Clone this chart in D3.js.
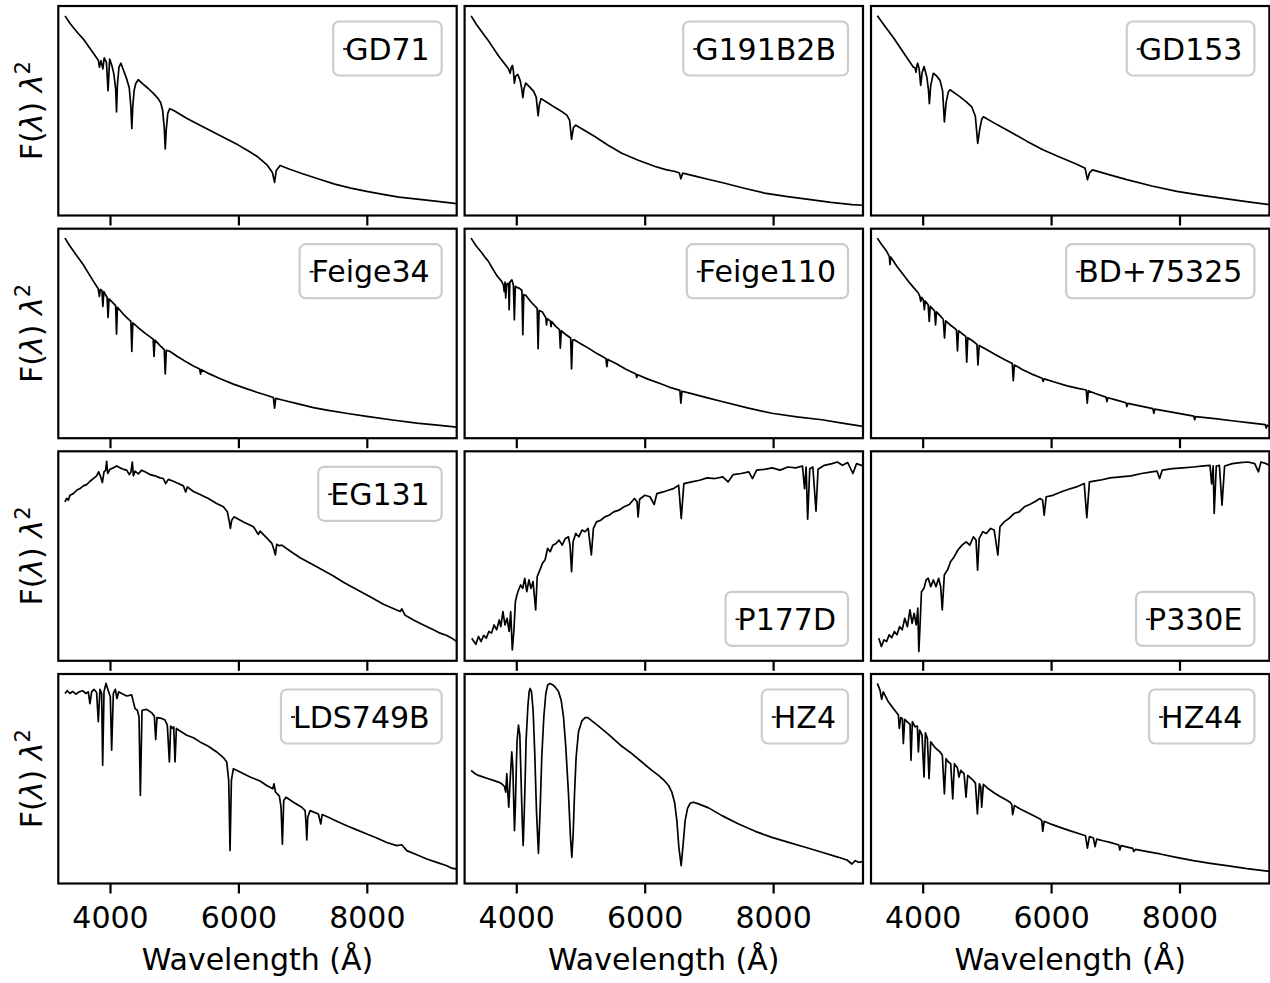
<!DOCTYPE html>
<html><head><meta charset="utf-8">
<script src="https://cdn.jsdelivr.net/npm/d3@7/dist/d3.min.js"></script>
<style>
body{margin:0;background:#fff}
text{font-family:"DejaVu Sans",sans-serif;fill:#000}
</style>
</head><body>
<svg id="c" width="1270" height="983"></svg>
<script>
// ---------- data: [wavelength (Å), normalised F(λ)λ²] ----------
const tickValues = [4000, 6000, 8000];
const xLabel = "Wavelength (Å)";
const xRange = [3195, 9400];

const GD71 = [[3300,95.3],[3370,92.0],[3450,88.9],[3520,86.4],[3585,84.2],[3670,80.6],[3750,77.1],[3820,74.0],[3835,70.8],[3860,73.9],[3889,70.0],[3910,75.2],[3945,73.1],[3970,59.6],[3995,74.7],[4030,71.5],[4060,67.6],[4088,60.5],[4102,49.4],[4116,62.5],[4140,70.8],[4170,72.7],[4215,69.0],[4260,65.2],[4300,61.0],[4325,52.0],[4340,41.5],[4355,52.0],[4375,59.5],[4400,62.9],[4440,64.8],[4520,62.6],[4600,60.5],[4680,58.2],[4750,55.8],[4790,53.8],[4820,50.2],[4845,42.0],[4861,31.8],[4875,40.5],[4900,48.7],[4930,51.0],[5000,50.0],[5200,46.3],[5350,43.9],[5500,41.5],[5750,37.6],[6000,33.6],[6150,30.9],[6300,28.0],[6450,24.0],[6530,20.5],[6563,15.8],[6590,21.5],[6650,23.9],[6800,22.1],[7000,19.9],[7250,17.4],[7500,15.0],[7750,13.1],[8000,11.5],[8250,10.1],[8500,8.8],[8750,7.9],[9000,7.1],[9200,6.4],[9400,5.7]];

const G191B2B = [[3296,95.3],[3380,91.2],[3470,87.3],[3566,83.4],[3640,80.0],[3722,76.3],[3800,73.2],[3878,70.0],[3905,67.9],[3920,70.5],[3940,71.6],[3955,69.0],[3970,63.2],[3990,66.5],[4024,67.3],[4060,64.5],[4085,60.5],[4102,56.2],[4120,60.5],[4148,63.2],[4210,61.3],[4268,59.4],[4310,56.5],[4340,47.6],[4360,53.0],[4387,55.8],[4500,53.6],[4605,51.5],[4700,49.8],[4787,47.9],[4830,45.5],[4861,36.3],[4890,42.0],[4927,43.1],[5080,40.3],[5228,37.6],[5430,33.5],[5644,29.7],[5900,26.4],[6163,23.4],[6330,21.9],[6475,21.0],[6540,20.3],[6563,17.5],[6591,20.2],[6800,18.7],[7000,17.2],[7232,15.5],[7550,13.0],[7866,10.7],[8200,9.1],[8581,7.6],[8900,6.3],[9230,5.2],[9400,4.9]];

const GD153 = [[3294,95.3],[3420,90.0],[3543,85.0],[3700,77.8],[3855,70.8],[3880,70.5],[3896,68.4],[3910,71.5],[3922,72.7],[3945,70.0],[3969,62.1],[3990,68.0],[4021,71.1],[4065,66.0],[4090,60.0],[4104,53.4],[4125,62.0],[4166,67.9],[4220,66.5],[4270,64.5],[4310,59.5],[4338,44.7],[4365,54.0],[4400,59.0],[4426,60.0],[4500,58.4],[4582,56.6],[4680,54.2],[4764,51.8],[4820,47.5],[4857,34.4],[4890,41.5],[4920,46.0],[4945,47.1],[5150,43.5],[5361,40.0],[5620,35.5],[5880,31.3],[6140,27.8],[6400,24.5],[6530,22.5],[6566,17.1],[6600,20.5],[6644,21.8],[6900,19.5],[7179,17.1],[7570,14.1],[7958,11.5],[8350,9.6],[8737,7.9],[9070,6.5],[9400,5.2]];

const Feige34 = [[3299,95.5],[3370,92.0],[3450,88.5],[3520,85.5],[3585,82.8],[3640,80.0],[3700,77.0],[3750,74.5],[3792,72.5],[3815,71.5],[3835,67.7],[3850,71.0],[3875,70.5],[3889,62.9],[3905,70.0],[3930,68.5],[3955,67.3],[3970,57.6],[3985,66.5],[4040,64.8],[4088,63.3],[4102,49.7],[4116,62.5],[4200,59.5],[4270,57.3],[4325,55.8],[4340,41.4],[4355,55.0],[4450,52.5],[4560,49.8],[4672,47.3],[4686,39.0],[4700,46.8],[4780,44.2],[4845,42.3],[4861,30.7],[4877,41.9],[4930,41.5],[5050,39.0],[5200,36.2],[5300,34.5],[5397,33.0],[5411,30.6],[5425,32.7],[5550,30.7],[5700,28.6],[5922,25.8],[6100,23.9],[6300,21.8],[6450,20.4],[6545,19.4],[6563,14.3],[6581,19.0],[6700,18.1],[6900,16.6],[7168,14.6],[7400,13.3],[7700,11.8],[8000,10.4],[8400,8.7],[8779,7.2],[9100,6.2],[9400,5.3]];

const Feige110 = [[3296,95.5],[3370,92.0],[3450,89.0],[3510,86.5],[3566,84.4],[3630,81.0],[3700,77.5],[3774,74.8],[3800,73.0],[3812,70.0],[3825,74.5],[3835,66.9],[3850,73.5],[3880,74.0],[3889,61.3],[3900,74.5],[3931,75.6],[3955,73.0],[3970,56.5],[3985,72.5],[4008,72.0],[4050,71.5],[4088,70.5],[4102,49.4],[4116,68.5],[4148,68.2],[4230,65.0],[4325,62.0],[4340,42.7],[4355,61.0],[4408,60.2],[4460,57.5],[4471,54.1],[4482,57.0],[4530,56.0],[4541,53.3],[4553,55.7],[4610,53.5],[4672,51.8],[4686,43.0],[4700,51.3],[4770,49.5],[4846,47.8],[4861,33.1],[4876,46.8],[4901,47.0],[5010,45.0],[5124,43.0],[5250,40.5],[5396,38.0],[5411,34.2],[5426,37.6],[5560,35.5],[5700,33.0],[5862,30.6],[5876,29.0],[5890,30.3],[6050,28.2],[6250,26.0],[6420,24.0],[6548,22.8],[6563,16.7],[6580,22.4],[6700,21.5],[6950,19.5],[7202,17.5],[7600,14.5],[7981,11.9],[8370,10.2],[8760,8.8],[9100,7.1],[9400,5.6]];

const BD75325 = [[3294,95.5],[3360,92.5],[3439,89.2],[3480,86.8],[3491,82.8],[3502,86.5],[3600,82.0],[3699,78.0],[3800,74.0],[3870,71.5],[3933,69.3],[3955,67.7],[3969,65.3],[3985,67.2],[4010,66.1],[4026,61.3],[4040,65.5],[4085,63.7],[4102,55.7],[4118,63.0],[4185,60.8],[4200,54.1],[4215,60.3],[4270,58.5],[4320,56.8],[4340,47.8],[4358,56.0],[4440,53.8],[4525,51.8],[4542,41.7],[4558,51.3],[4610,50.0],[4670,48.6],[4686,36.3],[4702,48.0],[4775,46.5],[4845,44.8],[4861,35.0],[4880,44.3],[5000,42.2],[5150,39.6],[5280,37.5],[5395,35.6],[5411,27.5],[5428,35.0],[5550,32.8],[5700,30.6],[5860,28.6],[5876,27.1],[5892,28.3],[6050,26.8],[6250,25.0],[6420,23.8],[6548,23.0],[6563,16.7],[6580,22.6],[6700,21.2],[6855,19.6],[6870,17.5],[6885,19.3],[7020,18.2],[7165,16.9],[7180,15.1],[7195,16.6],[7400,15.3],[7585,14.1],[7600,11.9],[7615,13.9],[7900,12.3],[8222,10.5],[8237,8.8],[8252,10.3],[8550,9.3],[8850,8.2],[9100,7.3],[9335,6.5],[9350,4.8],[9365,6.2],[9400,5.6]];

const EG131 = [[3299,75.9],[3325,77.5],[3351,76.7],[3377,79.0],[3429,79.8],[3481,81.4],[3533,82.2],[3585,83.5],[3636,84.1],[3688,85.7],[3740,87.0],[3792,88.3],[3823,90.2],[3855,87.8],[3881,85.1],[3907,90.2],[3933,91.0],[3948,95.2],[3964,89.4],[4000,91.4],[4052,92.1],[4104,93.0],[4156,92.1],[4208,91.4],[4260,91.0],[4301,88.9],[4327,90.2],[4348,94.9],[4364,88.3],[4390,90.5],[4442,89.2],[4494,91.0],[4545,90.2],[4623,88.9],[4701,88.3],[4779,87.3],[4831,87.0],[4867,84.6],[4909,86.6],[4987,85.7],[5065,84.6],[5143,83.5],[5179,80.6],[5205,83.0],[5299,80.8],[5402,79.4],[5532,77.5],[5662,75.1],[5766,73.5],[5828,71.1],[5859,66.3],[5875,63.2],[5896,67.1],[5932,68.7],[6078,66.3],[6234,64.0],[6311,60.3],[6337,61.9],[6441,58.7],[6519,56.2],[6555,53.0],[6576,50.5],[6597,55.6],[6638,54.9],[6675,55.2],[6805,52.4],[6961,49.2],[7220,44.9],[7480,40.5],[7636,37.5],[7792,34.9],[8051,30.6],[8259,27.0],[8519,23.5],[8545,24.8],[8597,21.7],[8727,19.5],[8882,17.1],[9038,14.8],[9142,13.2],[9246,12.1],[9324,10.8],[9400,9.2]];

const P177D = [[3306,10.8],[3371,7.9],[3411,11.6],[3452,9.2],[3492,12.1],[3533,10.8],[3573,14.0],[3614,13.2],[3654,17.1],[3695,14.8],[3735,19.5],[3759,16.3],[3792,23.5],[3824,17.1],[3857,20.3],[3889,14.0],[3913,23.5],[3938,5.2],[3962,14.0],[3986,28.3],[4010,31.4],[4035,33.8],[4067,36.2],[4100,34.6],[4132,39.4],[4164,33.0],[4197,38.6],[4229,34.6],[4261,37.8],[4302,24.3],[4326,40.2],[4367,43.3],[4407,46.5],[4448,48.1],[4488,53.7],[4529,52.1],[4569,55.2],[4618,56.0],[4666,57.6],[4715,55.2],[4764,58.4],[4812,59.2],[4837,55.2],[4861,42.5],[4885,56.8],[4926,60.8],[4974,59.2],[5023,62.4],[5071,61.6],[5120,63.2],[5169,50.5],[5201,63.2],[5250,66.3],[5314,67.1],[5379,68.7],[5444,69.5],[5517,71.1],[5598,71.9],[5679,73.5],[5760,74.6],[5841,77.5],[5881,75.9],[5897,68.7],[5921,77.1],[6002,79.0],[6083,78.3],[6148,74.6],[6189,79.8],[6286,80.6],[6367,81.4],[6448,82.2],[6529,83.8],[6569,67.9],[6610,84.6],[6731,85.4],[6853,86.2],[6974,87.3],[7096,87.0],[7217,87.8],[7298,85.4],[7379,88.9],[7501,89.4],[7622,90.2],[7679,87.0],[7744,91.0],[7865,91.4],[7987,92.1],[8108,91.0],[8230,92.5],[8352,92.1],[8457,93.0],[8490,82.2],[8514,92.5],[8538,67.6],[8571,91.7],[8619,92.5],[8668,71.4],[8700,91.4],[8797,93.3],[8919,94.1],[9000,94.9],[9081,93.3],[9162,94.6],[9243,89.4],[9300,94.1],[9400,93.0]];

const P330E = [[3316,10.8],[3357,6.8],[3397,10.0],[3438,9.2],[3478,12.4],[3519,11.1],[3559,14.0],[3600,12.4],[3640,16.3],[3681,14.8],[3721,20.3],[3762,16.3],[3802,24.3],[3835,17.9],[3867,22.7],[3899,17.1],[3924,25.1],[3940,4.4],[3956,14.8],[3981,33.0],[4021,34.6],[4053,38.6],[4086,39.4],[4126,35.4],[4167,38.6],[4207,35.4],[4248,39.4],[4280,35.4],[4305,24.3],[4337,41.0],[4386,43.3],[4434,47.3],[4491,49.7],[4548,52.9],[4612,55.2],[4677,56.8],[4734,55.2],[4790,59.2],[4831,57.6],[4855,43.3],[4880,58.4],[4936,61.6],[4993,60.8],[5058,63.2],[5114,62.4],[5171,50.5],[5204,64.0],[5268,66.3],[5341,67.9],[5422,70.3],[5503,71.1],[5584,73.5],[5665,74.6],[5746,75.9],[5827,77.5],[5868,76.7],[5892,69.5],[5924,78.3],[6029,79.0],[6151,80.6],[6273,81.9],[6394,83.0],[6516,84.6],[6556,68.3],[6597,85.4],[6759,86.2],[6920,87.3],[7083,87.8],[7245,88.3],[7407,89.4],[7569,90.2],[7650,90.5],[7690,87.0],[7730,91.0],[7892,91.7],[8054,92.1],[8216,92.5],[8378,93.0],[8475,93.3],[8500,84.4],[8524,93.0],[8540,70.3],[8573,93.0],[8621,93.3],[8662,74.3],[8702,93.0],[8823,94.1],[8945,94.6],[9067,94.9],[9172,94.1],[9229,90.2],[9269,94.9],[9350,94.1],[9400,93.3]];

const LDS749B = [[3299,90.7],[3335,92.0],[3377,90.7],[3418,91.7],[3470,90.4],[3522,91.5],[3574,92.0],[3626,90.7],[3662,91.5],[3688,85.9],[3714,91.5],[3751,92.7],[3792,91.2],[3818,77.2],[3844,92.7],[3870,90.7],[3886,56.4],[3907,91.5],[3938,95.5],[3974,92.0],[4005,89.1],[4026,63.6],[4052,90.7],[4083,92.7],[4109,88.3],[4135,91.5],[4182,90.7],[4260,89.5],[4338,90.0],[4364,86.7],[4390,83.5],[4426,82.7],[4452,79.6],[4473,42.0],[4499,82.7],[4571,83.1],[4649,81.5],[4691,79.9],[4712,68.7],[4732,79.2],[4805,78.8],[4857,78.0],[4893,75.6],[4925,58.0],[4945,75.1],[4976,74.0],[4992,74.8],[5013,58.0],[5034,74.0],[5091,72.8],[5195,70.8],[5299,69.6],[5402,67.6],[5532,65.5],[5662,62.8],[5766,60.1],[5818,58.0],[5849,49.2],[5870,15.7],[5891,49.2],[5922,54.8],[6026,53.2],[6182,50.8],[6337,48.9],[6441,46.8],[6535,45.2],[6555,47.6],[6576,43.8],[6638,41.7],[6664,36.4],[6685,18.8],[6706,39.6],[6742,41.2],[6857,38.8],[6987,36.4],[7039,34.8],[7054,28.4],[7065,20.8],[7080,31.6],[7117,34.8],[7246,33.2],[7283,28.4],[7304,32.9],[7402,31.6],[7532,29.7],[7688,27.6],[7844,25.6],[8000,23.6],[8155,21.7],[8311,19.6],[8467,18.1],[8545,18.5],[8623,15.7],[8779,13.7],[8934,11.7],[9090,10.1],[9246,8.5],[9324,7.3],[9400,6.9]];

const HZ4 = [[3296,54.0],[3359,52.4],[3411,51.6],[3488,50.8],[3566,50.0],[3644,49.2],[3722,48.4],[3774,47.6],[3816,46.3],[3836,43.6],[3852,52.4],[3868,43.6],[3883,36.4],[3904,49.2],[3930,62.8],[3946,55.6],[3961,38.0],[3972,25.2],[3987,38.0],[4003,58.8],[4013,68.4],[4034,75.6],[4055,70.8],[4075,49.2],[4091,31.6],[4107,18.1],[4122,31.6],[4138,49.2],[4153,68.4],[4180,84.3],[4200,91.5],[4216,93.1],[4237,91.5],[4262,82.7],[4288,62.0],[4314,34.8],[4345,14.4],[4371,34.8],[4397,60.4],[4429,79.6],[4460,90.7],[4491,94.9],[4527,95.5],[4564,94.9],[4605,93.8],[4657,91.7],[4699,87.5],[4735,79.6],[4771,65.2],[4813,42.8],[4844,22.0],[4865,12.5],[4886,23.6],[4907,42.8],[4932,60.4],[4969,72.4],[5021,77.6],[5073,79.2],[5114,79.2],[5177,77.6],[5281,75.1],[5436,71.2],[5644,65.5],[5800,62.0],[5956,58.0],[6111,54.0],[6215,51.6],[6293,49.5],[6371,46.8],[6423,43.6],[6465,38.8],[6501,30.0],[6532,17.3],[6568,8.5],[6599,18.8],[6630,30.0],[6667,35.9],[6708,38.3],[6760,38.8],[6838,38.0],[6995,36.1],[7203,32.4],[7462,28.4],[7722,24.9],[7981,22.0],[8241,19.6],[8501,17.3],[8760,14.9],[9020,12.5],[9150,11.2],[9228,9.3],[9280,10.9],[9332,10.1],[9395,10.4]];

const HZ44 = [[3294,95.5],[3335,92.3],[3361,87.9],[3387,91.5],[3465,86.7],[3543,83.5],[3595,81.5],[3621,80.4],[3636,74.0],[3657,79.2],[3683,78.8],[3699,66.8],[3720,78.3],[3777,76.7],[3803,76.0],[3818,58.8],[3839,77.2],[3881,74.8],[3917,75.1],[3933,62.8],[3953,73.2],[3990,70.8],[4021,50.8],[4042,71.9],[4073,69.2],[4099,50.0],[4125,67.6],[4192,64.9],[4270,62.8],[4306,61.2],[4338,42.8],[4364,59.6],[4400,58.0],[4436,57.2],[4468,40.4],[4494,57.2],[4540,55.3],[4566,50.8],[4592,54.0],[4644,52.4],[4675,41.2],[4701,51.6],[4779,49.5],[4821,47.9],[4852,33.2],[4883,47.6],[4904,46.0],[4919,36.4],[4945,47.3],[5023,45.2],[5110,43.3],[5205,41.5],[5290,40.1],[5361,38.8],[5387,37.7],[5402,32.9],[5428,37.2],[5520,35.6],[5621,34.0],[5730,32.3],[5828,30.8],[5854,30.0],[5870,24.9],[5891,29.7],[6010,28.2],[6140,26.8],[6300,25.1],[6452,23.6],[6535,22.8],[6566,16.9],[6597,22.4],[6659,21.7],[6685,17.6],[6711,21.2],[6810,20.4],[6919,19.6],[7054,18.4],[7070,16.0],[7090,18.1],[7272,16.8],[7288,15.3],[7314,16.3],[7500,15.2],[7698,14.1],[7950,12.5],[8218,10.9],[8480,9.6],[8737,8.5],[9050,7.1],[9400,5.8]];

const starNames = ["GD71","G191B2B","GD153","Feige34","Feige110","BD+75325","EG131","P177D","P330E","LDS749B","HZ4","HZ44"];
const starData  = [GD71,G191B2B,GD153,Feige34,Feige110,BD75325,EG131,P177D,P330E,LDS749B,HZ4,HZ44];
const legendLoc = ["upper right","upper right","upper right","upper right","upper right","upper right","upper right","lower right","lower right","upper right","upper right","upper right"];

// ---------- layout ----------
const svg = d3.select("#c");
const colLeft = [58.3, 464.6, 871], panelW = 398.4;
const rowTop = [6, 228.7, 451.3, 674], panelH = 209.5;
const FS = 30;
const defs = svg.append("defs");

starNames.forEach((name, i) => {
  const r = Math.floor(i / 3), c = i % 3;
  const L = colLeft[c], T = rowTop[r];
  const x = d3.scaleLinear().domain(xRange).range([L, L + panelW]);
  const y = d3.scaleLinear().domain([0, 100]).range([T + panelH, T]);
  const g = svg.append("g");

  defs.append("clipPath").attr("id", "clip" + i)
    .append("rect").attr("x", L).attr("y", T).attr("width", panelW).attr("height", panelH);

  const line = d3.line().x(d => x(d[0])).y(d => y(d[1])).curve(d3.curveLinear);
  g.append("path").datum(starData[i])
    .attr("clip-path", "url(#clip" + i + ")")
    .attr("d", line).attr("fill", "none").attr("stroke", "#000")
    .attr("stroke-width", 1.7).attr("stroke-linejoin", "round");

  // x axis
  const ax = d3.axisBottom(x).tickValues(tickValues).tickSize(10).tickSizeOuter(0).tickPadding(12.7)
    .tickFormat(r === 3 ? d3.format("d") : () => "");
  const axg = g.append("g").attr("transform", `translate(0,${T + panelH})`).call(ax);
  axg.select(".domain").remove();
  axg.selectAll(".tick line").attr("stroke", "#000").attr("stroke-width", 2.2);
  axg.selectAll(".tick text").attr("font-size", FS).attr("font-family", "DejaVu Sans").attr("fill", "#000");

  // frame
  g.append("rect").attr("x", L).attr("y", T).attr("width", panelW).attr("height", panelH)
    .attr("fill", "none").attr("stroke", "#000").attr("stroke-width", 2.2);

  // legend
  const lg = g.append("g");
  const txt = lg.append("text").attr("font-size", FS).text(name);
  const tw = txt.node().getComputedTextLength();
  const pad = 12, bh = 54, bw = tw + 2 * pad;
  const bx = L + panelW - 15 - bw;
  const by = legendLoc[i] === "upper right" ? T + 15.5 : T + panelH - 15 - bh;
  lg.insert("rect", "text").attr("x", bx).attr("y", by).attr("width", bw).attr("height", bh)
    .attr("rx", 6).attr("fill", "#fff").attr("fill-opacity", 0.8)
    .attr("stroke", "#cccccc").attr("stroke-width", 2.2);
  txt.attr("x", bx + pad).attr("y", by + 38);
  lg.append("line").attr("x1", bx + pad - 2).attr("x2", bx + pad + 2)
    .attr("y1", by + 27.5).attr("y2", by + 27.5).attr("stroke", "#000").attr("stroke-width", 1.6);

  // y label
  if (c === 0) {
    const cy = T + panelH / 2;
    const yl = g.append("text").attr("font-size", FS).attr("text-anchor", "middle")
      .attr("transform", `translate(41.5,${cy}) rotate(-90)`);
    yl.append("tspan").text("F(");
    yl.append("tspan").attr("font-style", "italic").text("λ");
    yl.append("tspan").text(") ");
    yl.append("tspan").attr("font-style", "italic").text("λ");
    yl.append("tspan").attr("font-size", 21).attr("dy", -12).text("2");
  }
  // x label
  if (r === 3) {
    g.append("text").attr("font-size", FS).attr("text-anchor", "middle")
      .attr("x", L + panelW / 2).attr("y", 970).text(xLabel);
  }
});
</script>
</body></html>
